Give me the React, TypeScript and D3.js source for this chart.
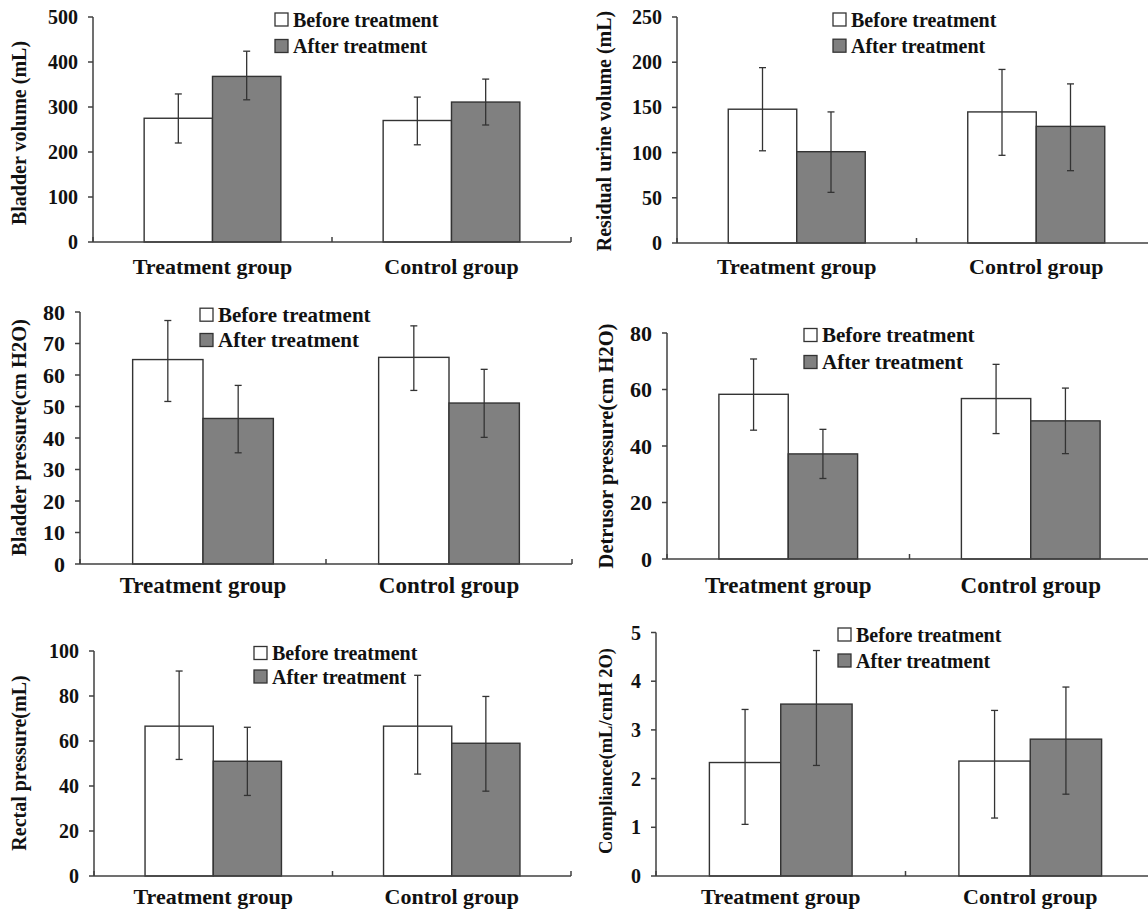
import React from 'react';
import * as d3 from 'd3';

const categories = ['Treatment group', 'Control group'];
const seriesNames = ['Before treatment', 'After treatment'];
const seriesFill = ['#ffffff', '#808080'];

// values are [category][series]; lo / hi are the ends of the error bars
const bladderVolumeMean = [[275, 368], [270, 311]];
const bladderVolumeLo = [[220, 316], [216, 260]];
const bladderVolumeHi = [[329, 424], [322, 362]];

const residualUrineMean = [[148, 101], [145, 129]];
const residualUrineLo = [[102, 56], [97, 80]];
const residualUrineHi = [[194, 145], [192, 176]];

const bladderPressureMean = [[64.9, 46.2], [65.6, 51.1]];
const bladderPressureLo = [[51.6, 35.3], [55.1, 40.2]];
const bladderPressureHi = [[77.3, 56.7], [75.6, 61.8]];

const detrusorPressureMean = [[58.3, 37.2], [56.8, 48.9]];
const detrusorPressureLo = [[45.6, 28.5], [44.4, 37.3]];
const detrusorPressureHi = [[70.8, 45.9], [68.9, 60.5]];

const rectalPressureMean = [[66.6, 51], [66.6, 59]];
const rectalPressureLo = [[51.8, 35.8], [45.3, 37.7]];
const rectalPressureHi = [[91.1, 66.1], [89.2, 79.8]];

const complianceMean = [[2.33, 3.53], [2.36, 2.81]];
const complianceLo = [[1.06, 2.27], [1.19, 1.68]];
const complianceHi = [[3.42, 4.63], [3.4, 3.88]];

const yTitles = [
  'Bladder volume (mL)',
  'Residual urine volume (mL)',
  'Bladder pressure(cm H2O)',
  'Detrusor pressure(cm H2O)',
  'Rectal pressure(mL)',
  'Compliance(mL/cmH 2O)',
];
const yMax = [500, 250, 80, 80, 100, 5];
const yStep = [100, 50, 10, 20, 20, 1];

// layout of each panel in page pixels
const panels = [
  { mean: bladderVolumeMean, lo: bladderVolumeLo, hi: bladderVolumeHi, left: 93, right: 571, top: 17, zero: 242, tx: 18.5, ty: 133, lx: 275, ly: [19.5, 46], catY: 274, tick: 20, cat: 22, leg: 20, ttl: 20 },
  { mean: residualUrineMean, lo: residualUrineLo, hi: residualUrineHi, left: 677, right: 1156, top: 17, zero: 243, tx: 603.5, ty: 131, lx: 833, ly: [19.5, 45.7], catY: 274, tick: 20, cat: 22, leg: 20, ttl: 20 },
  { mean: bladderPressureMean, lo: bladderPressureLo, hi: bladderPressureHi, left: 80, right: 572, top: 312, zero: 564, tx: 18.6, ty: 437.5, lx: 200, ly: [314.7, 340], catY: 593, tick: 22, cat: 23, leg: 21, ttl: 20.5 },
  { mean: detrusorPressureMean, lo: detrusorPressureLo, hi: detrusorPressureHi, left: 667, right: 1152, top: 333, zero: 559, tx: 606, ty: 446, lx: 804, ly: [335, 362], catY: 593, tick: 22, cat: 23, leg: 21, ttl: 20.5 },
  { mean: rectalPressureMean, lo: rectalPressureLo, hi: rectalPressureHi, left: 94, right: 571, top: 651, zero: 876, tx: 18.6, ty: 763, lx: 254, ly: [653, 676.5], catY: 904, tick: 20, cat: 22, leg: 20, ttl: 20 },
  { mean: complianceMean, lo: complianceLo, hi: complianceHi, left: 656, right: 1155, top: 632.5, zero: 876, tx: 606, ty: 751, lx: 838, ly: [634.5, 660.5], catY: 904, tick: 20, cat: 22, leg: 20, ttl: 18.5 },
];

const FONT = '"Liberation Serif", "Times New Roman", serif';
const INK = '#111';
const LINE = '#404040';

function Panel({ p, i }) {
  const x0 = d3.scaleBand().domain(categories).range([p.left, p.right]);
  const bw = x0.bandwidth();
  const x1 = d3.scaleBand().domain(seriesNames).range([bw * 0.214, bw * 0.786]);
  const y = d3.scaleLinear().domain([0, yMax[i]]).range([p.zero, p.top]);
  const ticks = d3.range(0, yMax[i] + yStep[i] / 2, yStep[i]);
  const bounds = d3.range(categories.length + 1).map((k) => p.left + k * bw);

  return (
    <g fontFamily={FONT} fontWeight="bold" fill={INK}>
      {categories.map((c, ci) =>
        seriesNames.map((s, si) => {
          const bx = x0(c) + x1(s);
          const cx = bx + x1.bandwidth() / 2;
          const v = p.mean[ci][si];
          return (
            <g key={c + s}>
              <rect x={bx} y={y(v)} width={x1.bandwidth()} height={y(0) - y(v)} fill={seriesFill[si]} stroke="#333" strokeWidth={1.4} />
              <g stroke="#333" strokeWidth={1.3}>
                <line x1={cx} x2={cx} y1={y(p.lo[ci][si])} y2={y(p.hi[ci][si])} />
                <line x1={cx - 3.5} x2={cx + 3.5} y1={y(p.lo[ci][si])} y2={y(p.lo[ci][si])} />
                <line x1={cx - 3.5} x2={cx + 3.5} y1={y(p.hi[ci][si])} y2={y(p.hi[ci][si])} />
              </g>
            </g>
          );
        })
      )}
      {/* axes */}
      <g stroke={LINE} strokeWidth={1.5}>
        <line x1={p.left} x2={p.left} y1={y(0)} y2={y(yMax[i])} />
        <line x1={p.left} x2={p.right} y1={y(0)} y2={y(0)} />
        {ticks.map((t) => (
          <line key={t} x1={p.left - 5} x2={p.left} y1={y(t)} y2={y(t)} />
        ))}
        {bounds.map((b) => (
          <line key={b} x1={b} x2={b} y1={y(0) - 5} y2={y(0)} />
        ))}
      </g>
      {ticks.map((t) => (
        <text key={t} x={p.left - 15} y={y(t)} textAnchor="end" dy="0.35em" fontSize={p.tick}>
          {t}
        </text>
      ))}
      {categories.map((c) => (
        <text key={c} x={x0(c) + bw / 2} y={p.catY} textAnchor="middle" fontSize={p.cat}>
          {c}
        </text>
      ))}
      <text transform={`translate(${p.tx},${p.ty}) rotate(-90)`} textAnchor="middle" dy="0.35em" fontSize={p.ttl}>
        {yTitles[i]}
      </text>
      {seriesNames.map((s, si) => (
        <g key={s}>
          <rect x={p.lx} y={p.ly[si] - 6.5} width={13} height={13} fill={seriesFill[si]} stroke="#333" strokeWidth={1.3} />
          <text x={p.lx + 18} y={p.ly[si]} dy="0.35em" fontSize={p.leg}>
            {s}
          </text>
        </g>
      ))}
    </g>
  );
}

export default function App() {
  return (
    <svg width={1148} height={911} style={{ position: 'absolute', left: 0, top: 0, background: '#fff' }}>
      {panels.map((p, i) => (
        <Panel key={i} p={p} i={i} />
      ))}
    </svg>
  );
}
